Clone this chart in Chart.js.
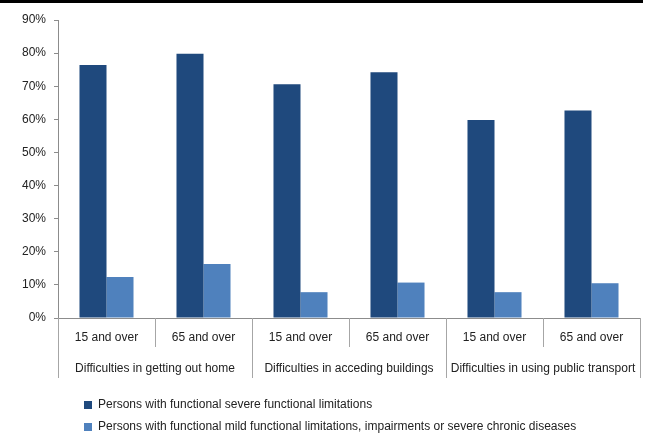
<!DOCTYPE html>
<html>
<head>
<meta charset="utf-8">
<script src="https://cdn.jsdelivr.net/npm/chart.js@4.4.0/dist/chart.umd.min.js"></script>
<style>
html,body{margin:0;padding:0;background:#fff;}
#wrap{position:relative;width:652px;height:439px;}
#topline{position:absolute;left:0;top:0;width:643px;height:3px;background:#000;}
</style>
</head>
<body>
<div id="wrap">
<canvas id="c" width="652" height="439"></canvas>
<div id="topline"></div>
</div>
<script>
const subLabels = ["15 and over","65 and over","15 and over","65 and over","15 and over","65 and over"];
const groupLabels = ["Difficulties in getting out home","Difficulties in acceding buildings","Difficulties in using public transport"];
const severeValues = [76.4, 79.8, 70.6, 74.2, 59.8, 62.7];
const mildValues = [12.4, 16.3, 7.8, 10.7, 7.8, 10.5];
const seriesNames = ["Persons with functional severe functional limitations","Persons with functional mild functional limitations, impairments or severe chronic diseases"];
const yTicks = [0,10,20,30,40,50,60,70,80,90];

const FONT = "'Liberation Sans', Arial, sans-serif";
const AXIS = '#8c8c8c';
const DIV = '#a6a6a6';

const dividerPlugin = {
  id: 'dividers',
  afterDraw(chart) {
    const x = chart.scales.x, x2 = chart.scales.x2;
    const ctx = chart.ctx;
    const n = subLabels.length;
    const w = (x.right - x.left) / n;
    ctx.save();
    ctx.strokeStyle = DIV;
    ctx.lineWidth = 1;
    for (let k = 0; k <= n; k++) {
      const px = Math.round(x.left + k * w) + 0.5;
      const bottom = (k % 2 === 0) ? x2.top + 30 : x.top + 29;
      ctx.beginPath();
      ctx.moveTo(px, x.top);
      ctx.lineTo(px, bottom);
      ctx.stroke();
    }
    ctx.restore();
  }
};

const legendShift = {
  id: 'legendShift',
  afterLayout(chart) {
    const lg = chart.legend;
    if (lg) { lg.left = 74; lg.top += 4; }
  }
};

new Chart(document.getElementById('c'), {
  type: 'bar',
  data: {
    labels: subLabels,
    datasets: [
      { label: seriesNames[0], data: severeValues, backgroundColor: '#1f497d', categoryPercentage: 0.557, barPercentage: 1.0, xAxisID: 'x' },
      { label: seriesNames[1], data: mildValues, backgroundColor: '#4f81bd', categoryPercentage: 0.557, barPercentage: 1.0, xAxisID: 'x' }
    ]
  },
  options: {
    responsive: false,
    animation: false,
    devicePixelRatio: 1,
    layout: { padding: { top: 20, right: 12, left: 0, bottom: 0 } },
    plugins: {
      tooltip: { enabled: false },
      legend: {
        position: 'bottom',
        align: 'start',
        labels: {
          boxWidth: 8, boxHeight: 8, padding: 10,
          color: '#222',
          font: { family: FONT, size: 12 },
          generateLabels(chart) {
            return chart.data.datasets.map((ds, i) => ({
              text: ds.label, fillStyle: ds.backgroundColor, strokeStyle: ds.backgroundColor,
              lineWidth: 0, hidden: false, datasetIndex: i, fontColor: '#222'
            }));
          }
        }
      }
    },
    scales: {
      y: {
        min: 0, max: 90,
        afterBuildTicks(s) { s.ticks = yTicks.map(v => ({ value: v })); },
        afterFit(s) { s.width = 58; },
        ticks: { callback: v => v + '%', color: '#222', font: { family: FONT, size: 12 }, padding: 8 },
        grid: { display: true, drawOnChartArea: false, drawTicks: true, tickLength: 4, color: AXIS },
        border: { display: true, color: AXIS }
      },
      x: {
        type: 'category',
        position: 'bottom',
        offset: true,
        afterFit(s) { s.height = 30; },
        ticks: { color: '#222', font: { family: FONT, size: 12 }, padding: 4, maxRotation: 0, autoSkip: false },
        grid: { display: false },
        border: { display: true, color: AXIS }
      },
      x2: {
        type: 'category',
        position: 'bottom',
        labels: groupLabels,
        offset: true,
        afterFit(s) { s.height = 37; },
        ticks: { color: '#222', font: { family: FONT, size: 12 }, padding: 5, maxRotation: 0, autoSkip: false },
        grid: { display: false },
        border: { display: false }
      }
    }
  },
  plugins: [dividerPlugin, legendShift]
});
</script>
</body>
</html>
